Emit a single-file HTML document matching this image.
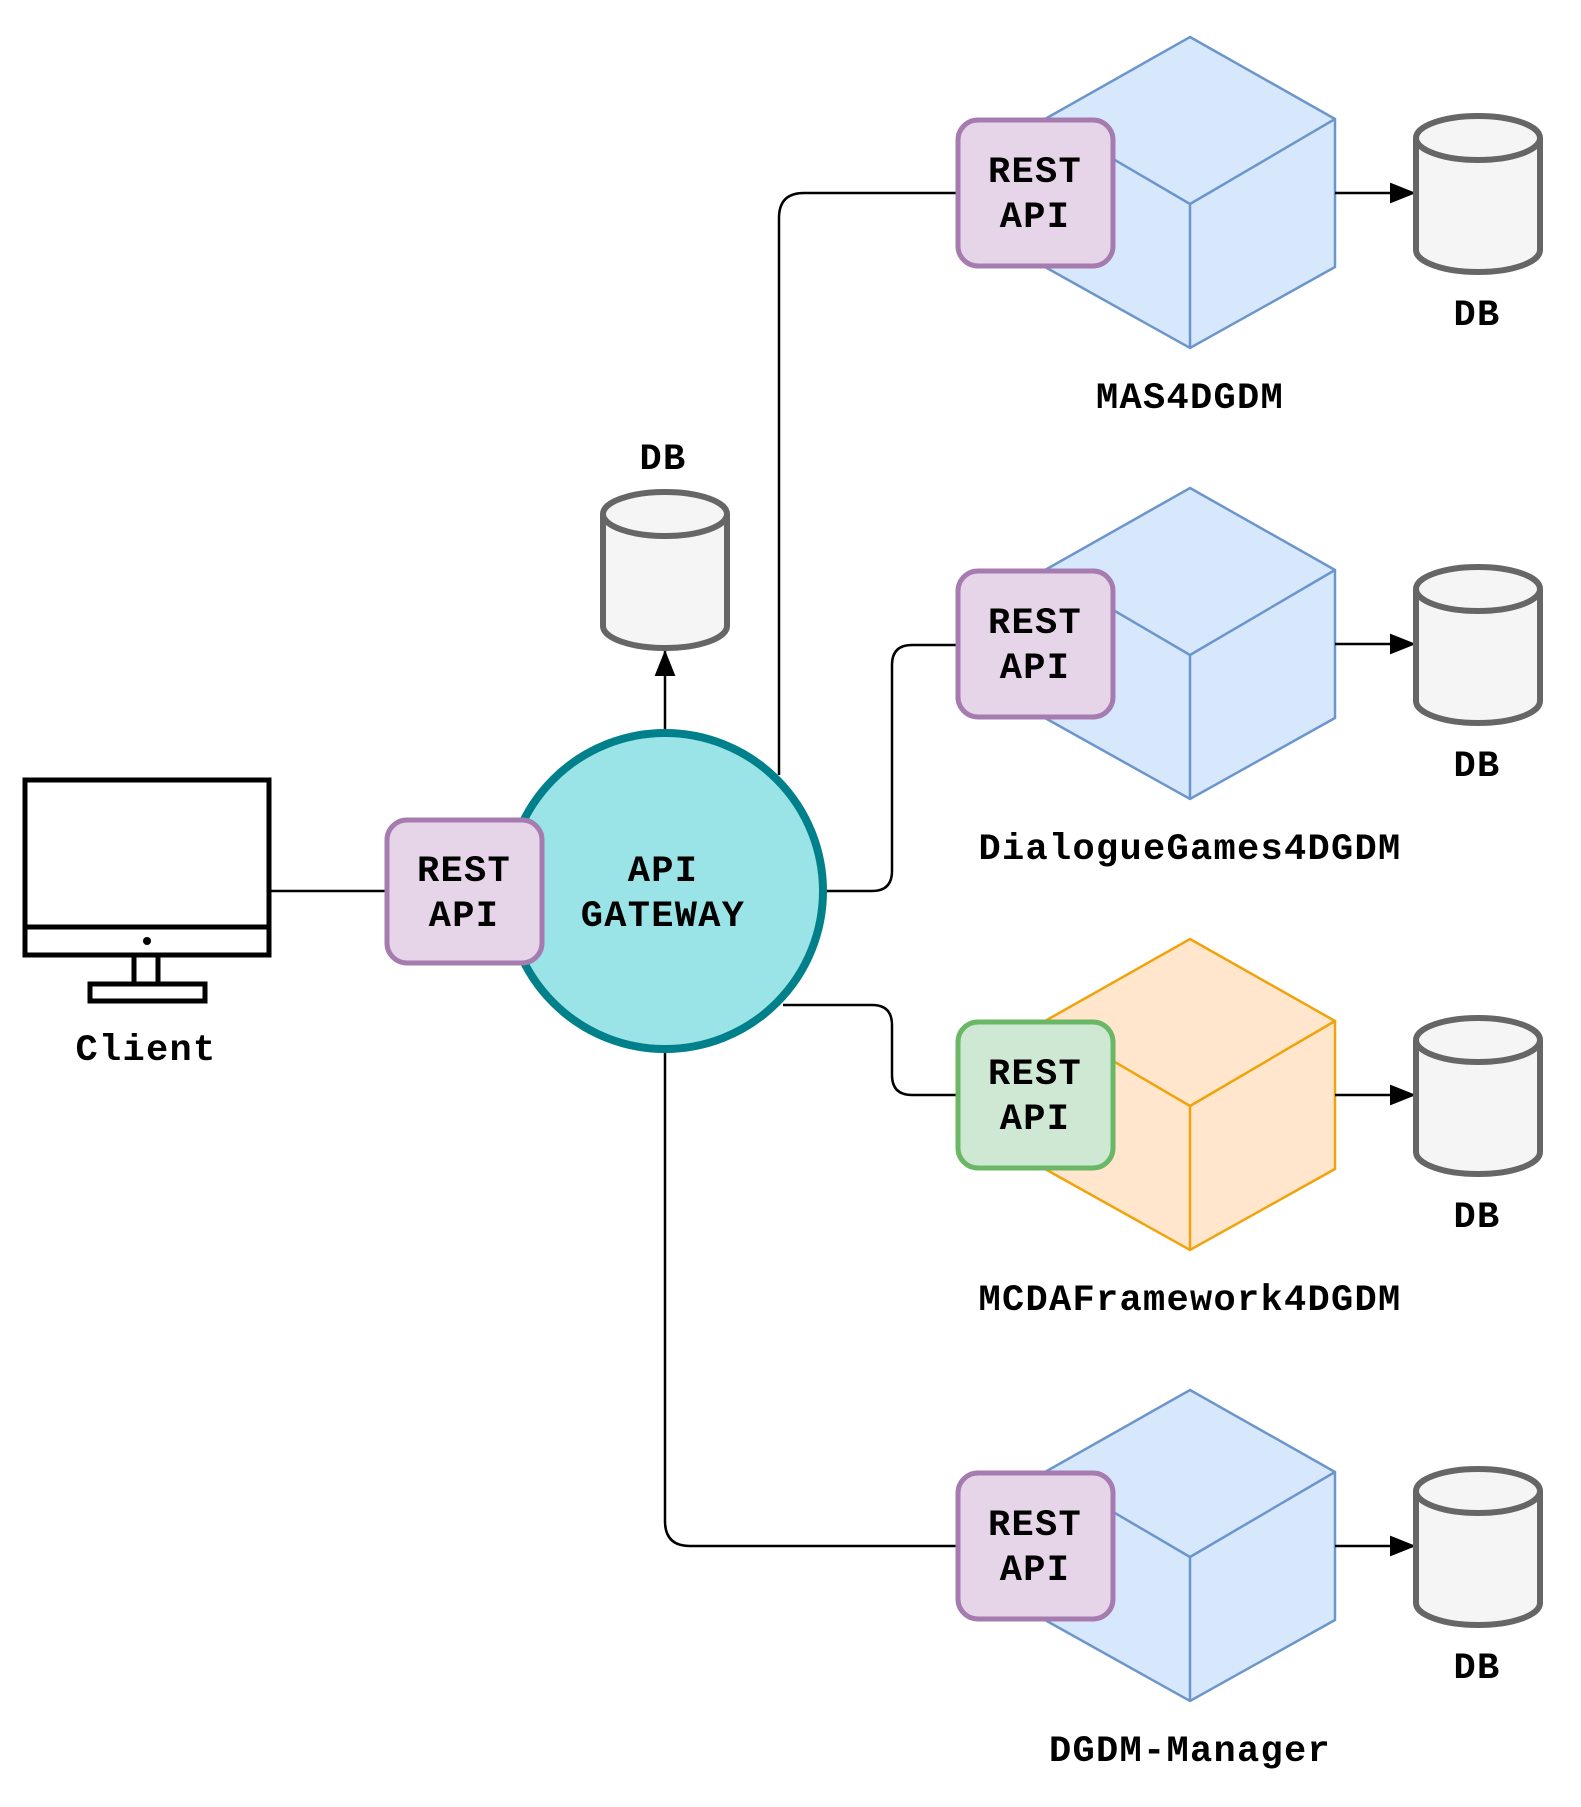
<!DOCTYPE html>
<html><head><meta charset="utf-8"><style>html,body{margin:0;padding:0;background:#fff;}svg{display:block}</style></head>
<body>
<svg width="1581" height="1807" viewBox="0 0 1581 1807" xmlns="http://www.w3.org/2000/svg" font-family="'Liberation Mono', monospace" font-weight="bold" font-size="37" letter-spacing="1.3">
<defs>
<marker id="ar2" viewBox="0 0 10 10" markerWidth="26" markerHeight="26" refX="10" refY="5" orient="auto" markerUnits="userSpaceOnUse">
<path d="M0,1 L10,5 L0,9 Z" fill="#000"/>
</marker>
<g id="cyl">
<path d="M0,22 A62,22 0 0 1 124,22 L124,134 A62,22 0 0 1 0,134 Z" fill="#f5f5f5" stroke="#666" stroke-width="6"/>
<path d="M0,22 A62,22 0 0 0 124,22" fill="none" stroke="#666" stroke-width="6"/>
</g>
</defs>

<!-- connectors -->
<g fill="none" stroke="#000" stroke-width="2.5">
<line x1="269" y1="891" x2="387" y2="891"/>
<line x1="665" y1="730" x2="665" y2="650" marker-end="url(#ar2)"/>
<path d="M779,775 L779,218 Q779,193 804,193 L958,193"/>
<path d="M826,891 L872,891 Q892,891 892,871 L892,665 Q892,645 912,645 L958,645"/>
<path d="M783,1005 L872,1005 Q892,1005 892,1025 L892,1075 Q892,1095 912,1095 L958,1095"/>
<path d="M665,1052 L665,1521 Q665,1546 690,1546 L958,1546"/>
</g>

<!-- client monitor -->
<g fill="#fff" stroke="#000" stroke-width="5">
<rect x="25" y="780" width="244" height="175"/>
<line x1="25" y1="927" x2="269" y2="927"/>
<rect x="134" y="955" width="24" height="29"/>
<rect x="90" y="984" width="115" height="17"/>
</g>
<circle cx="147" cy="941" r="4" fill="#000"/>
<text x="146" y="1060" text-anchor="middle">Client</text>

<!-- gateway -->
<circle cx="665" cy="891" r="158" fill="#9ae3e6" stroke="#00808a" stroke-width="8"/>
<rect x="387" y="820" width="155" height="143" rx="20" fill="#e6d5e8" stroke="#a57bb0" stroke-width="5"/>
<text x="464" y="881" text-anchor="middle">REST</text>
<text x="464" y="926" text-anchor="middle">API</text>
<text x="663" y="881" text-anchor="middle">API</text>
<text x="663" y="926" text-anchor="middle">GATEWAY</text>

<!-- gateway DB -->
<use href="#cyl" transform="translate(603,492)"/>
<text x="663" y="469" text-anchor="middle">DB</text>

<!-- services -->
<g>
<polygon points="1190,37 1335,119 1335,267 1190,348 1045,267 1045,119" fill="#d7e8fc" stroke="#6c95cc" stroke-width="2.5"/>
<polyline points="1045,119 1190,204 1335,119" fill="none" stroke="#6c95cc" stroke-width="2.5"/>
<line x1="1190" y1="204" x2="1190" y2="348" stroke="#6c95cc" stroke-width="2.5"/>
<rect x="958" y="120" width="155" height="146" rx="20" fill="#e6d5e8" stroke="#a57bb0" stroke-width="5"/>
<text x="1035" y="182" text-anchor="middle">REST</text>
<text x="1035" y="227" text-anchor="middle">API</text>
<line x1="1335" y1="193" x2="1416" y2="193" stroke="#000" stroke-width="2.5" marker-end="url(#ar2)"/>
<use href="#cyl" transform="translate(1416,116)"/>
<text x="1477" y="325" text-anchor="middle">DB</text>
<text x="1190" y="408" text-anchor="middle">MAS4DGDM</text>
</g>

<g transform="translate(0,451)">
<polygon points="1190,37 1335,119 1335,267 1190,348 1045,267 1045,119" fill="#d7e8fc" stroke="#6c95cc" stroke-width="2.5"/>
<polyline points="1045,119 1190,204 1335,119" fill="none" stroke="#6c95cc" stroke-width="2.5"/>
<line x1="1190" y1="204" x2="1190" y2="348" stroke="#6c95cc" stroke-width="2.5"/>
<rect x="958" y="120" width="155" height="146" rx="20" fill="#e6d5e8" stroke="#a57bb0" stroke-width="5"/>
<text x="1035" y="182" text-anchor="middle">REST</text>
<text x="1035" y="227" text-anchor="middle">API</text>
<line x1="1335" y1="193" x2="1416" y2="193" stroke="#000" stroke-width="2.5" marker-end="url(#ar2)"/>
<use href="#cyl" transform="translate(1416,116)"/>
<text x="1477" y="325" text-anchor="middle">DB</text>
<text x="1190" y="408" text-anchor="middle">DialogueGames4DGDM</text>
</g>

<g transform="translate(0,902)">
<polygon points="1190,37 1335,119 1335,267 1190,348 1045,267 1045,119" fill="#ffe6cc" stroke="#f0a30a" stroke-width="2.5"/>
<polyline points="1045,119 1190,204 1335,119" fill="none" stroke="#f0a30a" stroke-width="2.5"/>
<line x1="1190" y1="204" x2="1190" y2="348" stroke="#f0a30a" stroke-width="2.5"/>
<rect x="958" y="120" width="155" height="146" rx="20" fill="#cfe8d3" stroke="#6ab765" stroke-width="5"/>
<text x="1035" y="182" text-anchor="middle">REST</text>
<text x="1035" y="227" text-anchor="middle">API</text>
<line x1="1335" y1="193" x2="1416" y2="193" stroke="#000" stroke-width="2.5" marker-end="url(#ar2)"/>
<use href="#cyl" transform="translate(1416,116)"/>
<text x="1477" y="325" text-anchor="middle">DB</text>
<text x="1190" y="408" text-anchor="middle">MCDAFramework4DGDM</text>
</g>

<g transform="translate(0,1353)">
<polygon points="1190,37 1335,119 1335,267 1190,348 1045,267 1045,119" fill="#d7e8fc" stroke="#6c95cc" stroke-width="2.5"/>
<polyline points="1045,119 1190,204 1335,119" fill="none" stroke="#6c95cc" stroke-width="2.5"/>
<line x1="1190" y1="204" x2="1190" y2="348" stroke="#6c95cc" stroke-width="2.5"/>
<rect x="958" y="120" width="155" height="146" rx="20" fill="#e6d5e8" stroke="#a57bb0" stroke-width="5"/>
<text x="1035" y="182" text-anchor="middle">REST</text>
<text x="1035" y="227" text-anchor="middle">API</text>
<line x1="1335" y1="193" x2="1416" y2="193" stroke="#000" stroke-width="2.5" marker-end="url(#ar2)"/>
<use href="#cyl" transform="translate(1416,116)"/>
<text x="1477" y="325" text-anchor="middle">DB</text>
<text x="1190" y="408" text-anchor="middle">DGDM-Manager</text>
</g>
</svg>
</body></html>
